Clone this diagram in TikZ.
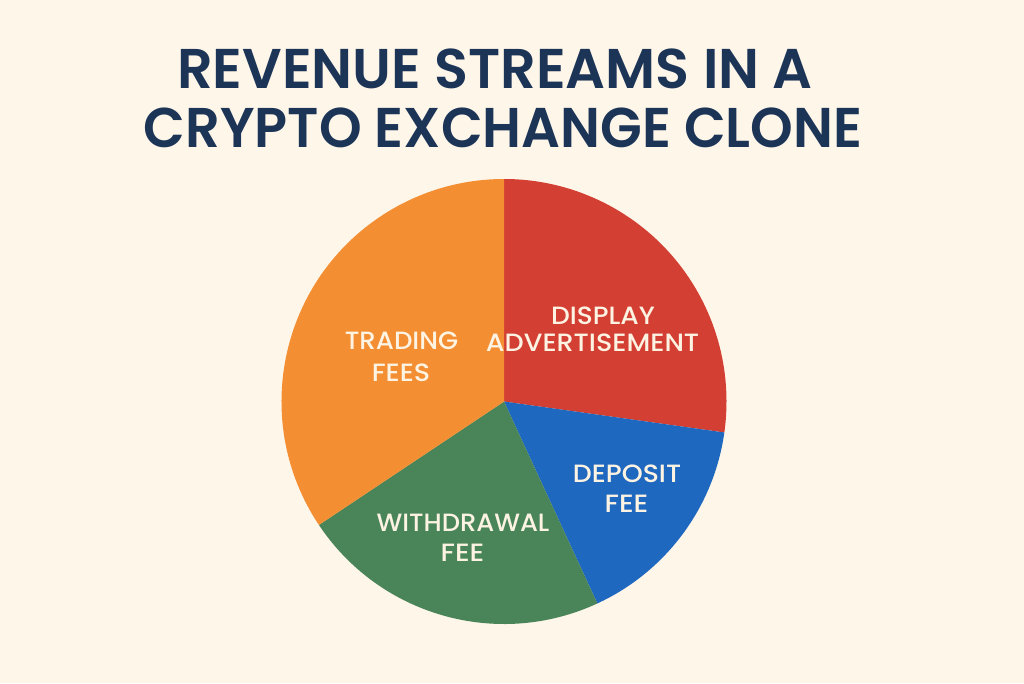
\documentclass[tikz,border=0pt]{standalone}
\usepackage{fontspec}
\setmainfont{Poppins}
\newfontfamily\titlef{Poppins SemiBold}
\newfontfamily\labf{Poppins Medium}
\definecolor{bg}{HTML}{FFF6EA}
\definecolor{navy}{HTML}{1C3557}
\definecolor{po}{HTML}{F38E32}
\definecolor{pr}{HTML}{D33F33}
\definecolor{pb}{HTML}{1F68BF}
\definecolor{pg}{HTML}{4A8559}
\definecolor{lab}{HTML}{FDF3E3}
\tikzset{titletext/.style={text=navy,font=\titlef\fontsize{56}{56}\selectfont,inner sep=0,anchor=base},
 lbl/.style={text=lab,font=\labf\fontsize{25}{25}\selectfont,inner sep=0,anchor=base}}
\newcommand{\lsq}[2][1.05]{\scalebox{#1}[1]{#2}}
\begin{document}
\begin{tikzpicture}[x=1pt,y=1pt]
\useasboundingbox (0,0) rectangle (1024,683);
\fill[bg] (0,0) rectangle (1024,683);
\coordinate (c) at (504,281.5);
\def\R{222.5}
\fill[pr] (c) -- ++(90:\R) arc[start angle=90,end angle=-8,radius=\R] -- cycle;
\fill[pb] (c) -- ++(-8:\R) arc[start angle=-8,end angle=-65.2,radius=\R] -- cycle;
\fill[pg] (c) -- ++(-65.2:\R) arc[start angle=-65.2,end angle=-146.3,radius=\R] -- cycle;
\fill[po] (c) -- ++(-146.3:\R) arc[start angle=-146.3,end angle=-270,radius=\R] -- cycle;
\node[titletext] (t1) at (495,594) {\lsq[0.995]{REVENUE STREAMS IN A}};
\node[titletext] (t2) at (503,535) {\lsq[0.97]{CRYPTO EXCHANGE CLONE}};
\node[lbl] (l1a) at (401.5,333) {\lsq[1.04]{TRADING}};
\node[lbl] (l1b) at (401,301) {\lsq[1.08]{FEES}};
\node[lbl] (l2a) at (603,358) {\lsq[1.06]{DISPLAY}};
\node[lbl] (l2b) at (592.5,331) {\lsq[1.08]{ADVERTISEMENT}};
\node[lbl] (l3a) at (627,201) {\lsq[1.07]{DEPOSIT}};
\node[lbl] (l3b) at (626.5,171) {\lsq[1.12]{FEE}};
\node[lbl] (l4a) at (463,152) {\lsq[1.03]{WITHDRAWAL}};
\node[lbl] (l4b) at (462.5,122) {\lsq[1.12]{FEE}};
\end{tikzpicture}
\end{document}
